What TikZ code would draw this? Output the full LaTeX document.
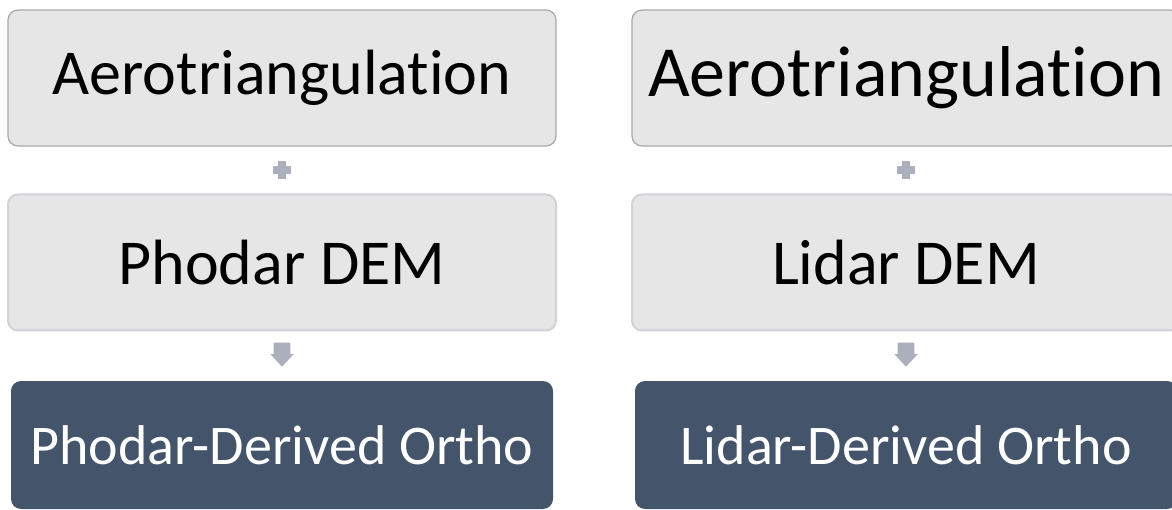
\documentclass[tikz,border=0pt]{standalone}
\usepackage{fontspec}
\setmainfont{Carlito}[Ligatures=NoCommon]
\usetikzlibrary{calc}
\definecolor{boxfill}{HTML}{E6E6E6}
\definecolor{topline}{HTML}{A8A8A8}
\definecolor{midline}{HTML}{D2D2D8}
\definecolor{slate}{HTML}{44546A}
\definecolor{glyph}{HTML}{ACB0BD}
\tikzset{
  lightbox/.style={rounded corners=10pt, fill=boxfill, minimum width=548pt,
    minimum height=136pt, inner sep=0pt, text=black},
  topbox/.style={lightbox, draw=topline, line width=1.2pt},
  midbox/.style={lightbox, draw=midline, line width=2pt},
  darkbox/.style={rounded corners=10pt, fill=slate, minimum width=542pt,
    minimum height=128pt, inner sep=0pt, text=white},
  glyphfill/.style={fill=glyph, draw=none}
}
\newcommand{\plusglyph}[1]{%
  \fill[glyphfill] ($(#1)+(-9,-3.6)$) rectangle ($(#1)+(9,3.6)$);
  \fill[glyphfill] ($(#1)+(-3.8,-9)$) rectangle ($(#1)+(3.8,9)$);}
\newcommand{\downglyph}[1]{%
  \fill[glyphfill] ($(#1)+(-8.4,-12)$) -- ($(#1)+(8.4,-12)$) -- ($(#1)+(8.4,-0.4)$)
    -- ($(#1)+(11.6,-0.4)$) -- ($(#1)+(0,12)$) -- ($(#1)+(-11.6,-0.4)$)
    -- ($(#1)+(-8.4,-0.4)$) -- cycle;}
\begin{document}
\begin{tikzpicture}[x=1pt,y=-1pt]
\useasboundingbox (0,0) rectangle (1172,510);
\clip (0,0) rectangle (1172,510);

% left column
\node[topbox] (a1) at (282,78) {\fontsize{64}{70}\selectfont Aerotriangulation};
\node[midbox] (b1) at (282,262.5) {\fontsize{64}{70}\selectfont Phodar DEM};
\node[darkbox] (c1) at (282,445) {\fontsize{56}{62}\selectfont Phodar-Derived Ortho};

% right column
\node[topbox] (a2) at (906,78) {\fontsize{72}{78}\selectfont Aerotriangulation};
\node[midbox] (b2) at (906,262.5) {\fontsize{64}{70}\selectfont Lidar DEM};
\node[darkbox] (c2) at (906,445) {\fontsize{56}{62}\selectfont Lidar-Derived Ortho};

% plus and down-arrow glyphs between the boxes
\coordinate (p1) at ($(a1.south)!0.5!(b1.north)$);
\coordinate (p2) at ($(a2.south)!0.5!(b2.north)$);
\coordinate (d1) at ($(b1.south)!0.5!(c1.north)+(0,-1.5)$);
\coordinate (d2) at ($(b2.south)!0.5!(c2.north)+(0,-1.5)$);
\plusglyph{p1}
\plusglyph{p2}
\downglyph{d1}
\downglyph{d2}
\end{tikzpicture}
\end{document}
